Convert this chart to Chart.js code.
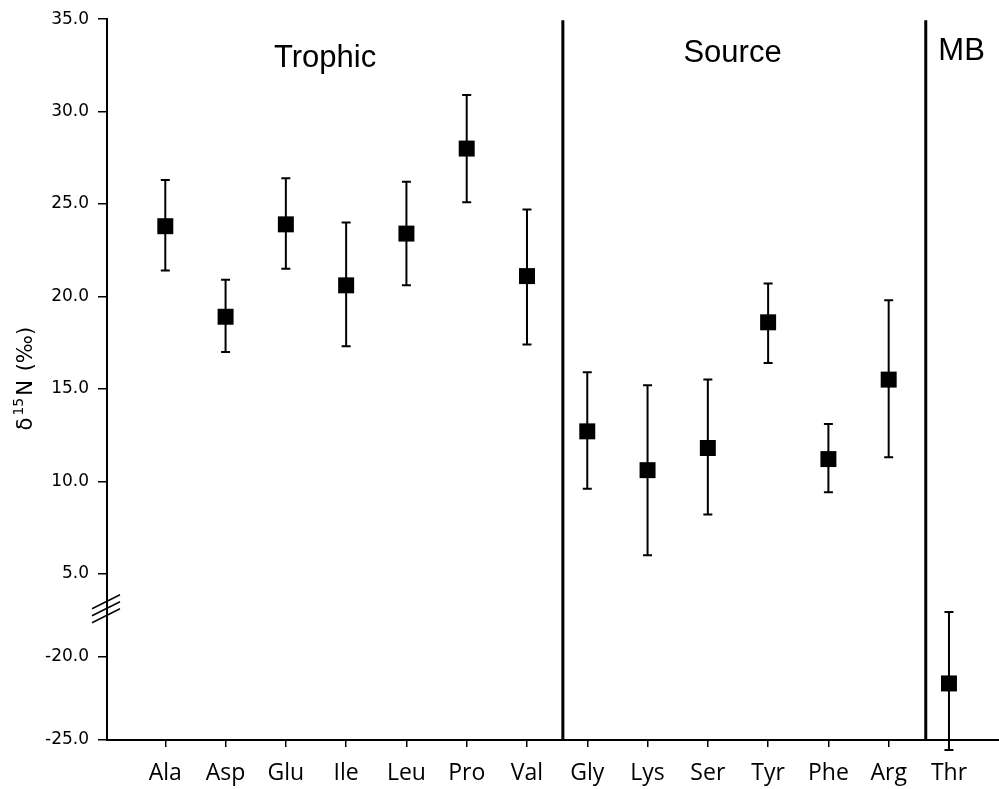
<!DOCTYPE html>
<html>
<head>
<meta charset="utf-8">
<script src="https://cdn.jsdelivr.net/npm/chart.js@4.4.0/dist/chart.umd.min.js"></script>
<style>
  html, body { margin: 0; padding: 0; background: #fff; }
  #wrap { width: 999px; height: 789px; }
</style>
</head>
<body>
<div id="wrap"><canvas id="chart" width="999" height="789"></canvas></div>
<script>
const aminoAcids = ['Ala', 'Asp', 'Glu', 'Ile', 'Leu', 'Pro', 'Val', 'Gly', 'Lys', 'Ser', 'Tyr', 'Phe', 'Arg', 'Thr'];
const meanValues = [23.8, 18.9, 23.9, 20.6, 23.4, 28.0, 21.1, 12.7, 10.6, 11.8, 18.6, 11.2, 15.5, -21.6];
const upperValues = [26.3, 20.9, 26.4, 24.0, 26.2, 30.9, 24.7, 15.9, 15.2, 15.5, 20.7, 13.1, 19.8, -17.3];
const lowerValues = [21.4, 17.0, 21.5, 17.3, 20.6, 25.1, 17.4, 9.6, 6.0, 8.2, 16.4, 9.4, 11.3, -25.6];
const yTickValues = [-25, -20, 5, 10, 15, 20, 25, 30, 35];
const sectionNames = ['Trophic', 'Source', 'MB'];

// broken y axis: values below zero are squeezed under the break
function toAxis(v) {
    if (v >= 0) return v;
    return 0.5 + (v + 20) * 0.9;
}

const extrasPlugin = {
    id: 'extras',
    beforeDatasetsDraw(chart, args, opts) {
        const ctx = chart.ctx;
        const xs = chart.scales.x, ys = chart.scales.y;
        ctx.save();
        ctx.strokeStyle = '#000';
        ctx.lineWidth = 2;
        meanValues.forEach((v, i) => {
            const x = xs.getPixelForValue(i + 1);
            const yTop = ys.getPixelForValue(toAxis(upperValues[i]));
            const yBot = ys.getPixelForValue(toAxis(lowerValues[i]));
            ctx.beginPath();
            ctx.moveTo(x, yTop);
            ctx.lineTo(x, yBot);
            ctx.moveTo(x - 4.5, yTop);
            ctx.lineTo(x + 4.5, yTop);
            ctx.moveTo(x - 4.5, yBot);
            ctx.lineTo(x + 4.5, yBot);
            ctx.stroke();
        });
        ctx.restore();
    },
    afterDraw(chart, args, opts) {
        const ctx = chart.ctx;
        const xs = chart.scales.x, ys = chart.scales.y;
        const area = chart.chartArea;
        ctx.save();

        // group dividers
        ctx.strokeStyle = '#000';
        ctx.lineWidth = 3;
        opts.dividers.forEach(d => {
            const x = xs.getPixelForValue(d);
            ctx.beginPath();
            ctx.moveTo(x, area.top + 1);
            ctx.lineTo(x, area.bottom);
            ctx.stroke();
        });

        // group names
        ctx.fillStyle = '#000';
        ctx.font = '31px "Liberation Sans", Arial, sans-serif';
        ctx.textAlign = 'center';
        ctx.textBaseline = 'alphabetic';
        sectionNames.forEach((name, i) => {
            ctx.fillText(name, xs.getPixelForValue(opts.centers[i]), opts.baselines[i]);
        });

        // axis break marks
        const by = ys.getPixelForValue(opts.breakAt);
        const ax = area.left;
        ctx.lineWidth = 1.5;
        [-7, 0, 7].forEach(off => {
            ctx.beginPath();
            ctx.moveTo(ax - 15, by + off + 7);
            ctx.lineTo(ax + 13, by + off - 7);
            ctx.stroke();
        });

        // y axis title with a real superscript
        const midY = (area.top + area.bottom) / 2 - 2;
        ctx.translate(32, midY);
        ctx.rotate(-Math.PI / 2);
        ctx.textAlign = 'left';
        const big = '21px "DejaVu Sans"';
        const small = '14px "DejaVu Sans"';
        const parts = [['δ', big, 0], ['15', small, -9], ['N', big, 0], [' (‰)', big, 0]];
        const gap = 2;
        let total = 0;
        parts.forEach(p => { ctx.font = p[1]; total += ctx.measureText(p[0]).width + gap; });
        let x = -total / 2;
        parts.forEach(p => {
            ctx.font = p[1];
            ctx.fillText(p[0], x, p[2]);
            x += ctx.measureText(p[0]).width + gap;
        });
        ctx.restore();
    }
};

const ctx = document.getElementById('chart').getContext('2d');
window.deltaChart = new Chart(ctx, {
    type: 'scatter',
    data: {
        datasets: [{
            data: meanValues.map((v, i) => ({ x: i + 1, y: toAxis(v) })),
            pointStyle: 'rect',
            pointRadius: 11.3,
            pointHoverRadius: 11.3,
            backgroundColor: '#000',
            borderColor: '#000',
            borderWidth: 0,
            clip: false
        }]
    },
    options: {
        responsive: false,
        animation: false,
        layout: { autoPadding: false, padding: { top: 15, right: 0, left: 0, bottom: 0 } },
        plugins: {
            legend: { display: false },
            tooltip: { enabled: false },
            extras: {
                dividers: [7.595, 13.615],
                centers: [3.65, 10.41, 14.21],
                baselines: [67, 62, 60],
                breakAt: 3.1
            }
        },
        scales: {
            x: {
                type: 'linear',
                min: 0.033,
                max: 14.83,
                afterBuildTicks: function(scale) {
                    scale.ticks = aminoAcids.map((_, i) => ({ value: i + 1 }));
                },
                afterFit: function(scale) {
                    scale.height = 49;
                    scale.paddingLeft = 0;
                    scale.paddingRight = 0;
                },
                ticks: {
                    callback: function(value) {
                        return aminoAcids[value - 1];
                    },
                    color: '#000',
                    font: { family: 'Open Sans', size: 23 },
                    padding: 13,
                    maxRotation: 0,
                    autoSkip: false
                },
                grid: { drawOnChartArea: false, drawTicks: true, tickLength: 7, color: '#000', lineWidth: 1.5 },
                border: { color: '#000', width: 2 }
            },
            y: {
                min: -4,
                max: 35,
                afterBuildTicks: function(scale) {
                    scale.ticks = yTickValues.map(v => ({ value: toAxis(v) }));
                },
                afterFit: function(scale) {
                    scale.width = 107;
                },
                ticks: {
                    callback: function(value, index) {
                        return yTickValues[index].toFixed(1);
                    },
                    color: '#000',
                    font: { family: 'DejaVu Sans', size: 17 },
                    padding: 9
                },
                title: { display: false },
                grid: { drawOnChartArea: false, drawTicks: true, tickLength: 9, color: '#000', lineWidth: 1.5 },
                border: { color: '#000', width: 2 }
            }
        }
    },
    plugins: [extrasPlugin]
});
</script>
</body>
</html>
